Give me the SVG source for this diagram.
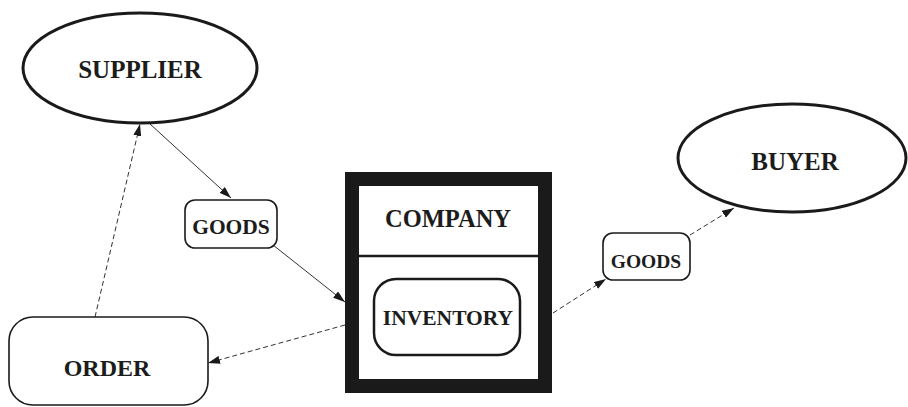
<svg xmlns="http://www.w3.org/2000/svg" width="908" height="407" viewBox="0 0 908 407">
<style>
.t{font-family:"Liberation Serif","Times New Roman",serif;font-weight:bold;fill:#1c1c1c;text-anchor:middle}
.ell{fill:#fff;stroke:#1a1a1a;stroke-width:3}
.box{fill:#fff;stroke:#1a1a1a;stroke-width:1.6}
.c{fill:none;stroke:#333;stroke-width:1}
.d{stroke-dasharray:5,3}
</style>
<defs>
<marker id="ah" viewBox="0 0 12 8" refX="12" refY="4" markerWidth="12" markerHeight="8" markerUnits="userSpaceOnUse" orient="auto">
<path d="M0,0 L12,4 L0,8 Z" fill="#1a1a1a"/>
</marker>
</defs>
<rect width="908" height="407" fill="#fff"/>
<g id="connectors">
<line class="c" x1="150" y1="124" x2="231" y2="198" marker-end="url(#ah)"/>
<line class="c" x1="273" y1="245" x2="345" y2="302" marker-end="url(#ah)"/>
<line class="c d" x1="345" y1="325" x2="208" y2="363" marker-end="url(#ah)"/>
<line class="c d" x1="95" y1="317" x2="140" y2="124" marker-end="url(#ah)"/>
<line class="c d" x1="553" y1="313" x2="606" y2="279" marker-end="url(#ah)"/>
<line class="c d" x1="690" y1="235" x2="734" y2="208" marker-end="url(#ah)"/>
</g>
<g id="supplier">
<ellipse class="ell" cx="140" cy="68" rx="117" ry="55"/>
<text class="t" x="140" y="78" font-size="25">SUPPLIER</text>
</g>
<g id="goods1">
<rect class="box" x="185" y="200" width="92" height="48" rx="10"/>
<text class="t" x="231" y="234" font-size="21.5">GOODS</text>
</g>
<g id="company">
<rect x="352" y="179" width="193" height="207" fill="#fff" stroke="#1a1a1a" stroke-width="14"/>
<line x1="359" y1="256" x2="538" y2="256" stroke="#1a1a1a" stroke-width="2.5"/>
<text class="t" x="448" y="227" font-size="24.5">COMPANY</text>
</g>
<g id="inventory">
<rect x="374" y="279" width="146" height="76" rx="22" fill="#fff" stroke="#1a1a1a" stroke-width="2.5"/>
<text class="t" x="448" y="325" font-size="21.5">INVENTORY</text>
</g>
<g id="order">
<rect class="box" x="9" y="317" width="199" height="88" rx="24"/>
<text class="t" x="107" y="376" font-size="24">ORDER</text>
</g>
<g id="buyer">
<ellipse class="ell" cx="792" cy="158" rx="114" ry="54"/>
<text class="t" x="795" y="170" font-size="25">BUYER</text>
</g>
<g id="goods2">
<rect class="box" x="603" y="233" width="87" height="47" rx="10"/>
<text class="t" x="646" y="268" font-size="19.5">GOODS</text>
</g>
</svg>
